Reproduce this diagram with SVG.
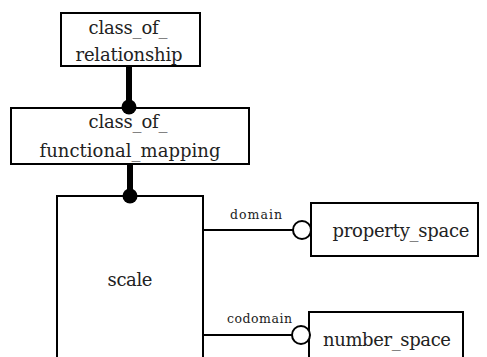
<svg xmlns="http://www.w3.org/2000/svg" width="487" height="357" viewBox="0 0 487 357">
<style>
.box{fill:#fff;stroke:#000;stroke-width:2}
text{font-family:'DejaVu Serif','Liberation Serif',serif;fill:#222}
.t{font-size:18px;text-anchor:middle}
.lbl{font-size:12.5px}
.thick{stroke:#000;stroke-width:6;fill:none}
.thin{stroke:#000;stroke-width:2;fill:none}
.dot{fill:#000}
.open{fill:#fff;stroke:#000;stroke-width:2}
</style>
<rect width="487" height="357" fill="#fff"/>
<g id="connectors">
<line class="thick" x1="129" y1="66" x2="129" y2="107"/>
<line class="thick" x1="130" y1="164" x2="130" y2="196"/>
<line class="thin" x1="203" y1="230" x2="293" y2="230"/>
<line class="thin" x1="203" y1="335" x2="293" y2="335"/>
</g>
<g id="class_of_relationship">
<rect class="box" x="61" y="13" width="139" height="53"/>
<text class="t" x="128" y="34" textLength="79">class_of_</text>
<text class="t" x="129" y="61" textLength="107">relationship</text>
</g>
<g id="class_of_functional_mapping">
<rect class="box" x="11" y="108" width="238" height="56"/>
<text class="t" x="128" y="128" textLength="79">class_of_</text>
<text class="t" x="130" y="157" textLength="181">functional_mapping</text>
</g>
<g id="scale">
<rect class="box" x="57" y="196" width="146" height="175"/>
<text class="t" x="130" y="286" textLength="45">scale</text>
</g>
<g id="property_space">
<rect class="box" x="311" y="203" width="167" height="53"/>
<text class="t" x="401" y="237" textLength="137">property_space</text>
</g>
<g id="number_space">
<rect class="box" x="309" y="312" width="154" height="60"/>
<text class="t" x="387" y="346" textLength="128">number_space</text>
</g>
<g id="ends">
<circle class="dot" cx="129" cy="107" r="7.5"/>
<circle class="dot" cx="130" cy="196" r="7.5"/>
<circle class="open" cx="302" cy="230" r="9"/>
<circle class="open" cx="301" cy="335" r="9"/>
</g>
<g id="labels">
<text class="lbl" x="230" y="219" textLength="52" lengthAdjust="spacing">domain</text>
<text class="lbl" x="227" y="323" textLength="65" lengthAdjust="spacing">codomain</text>
</g>
</svg>
